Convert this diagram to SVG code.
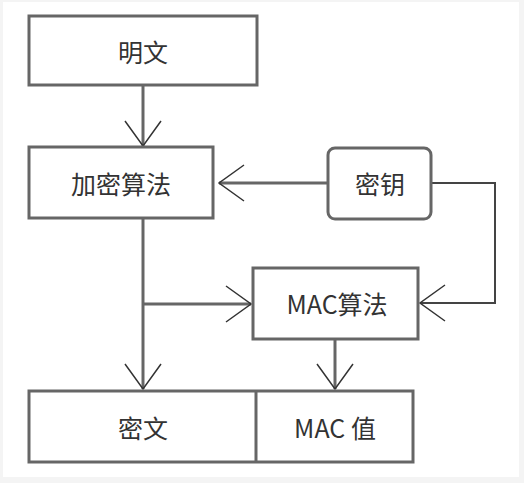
<svg xmlns="http://www.w3.org/2000/svg" width="524" height="483" viewBox="0 0 524 483">
  <defs>
    <marker id="arrow" markerUnits="userSpaceOnUse" viewBox="-27 -20 30 40" refX="0" refY="0" markerWidth="30" markerHeight="40" orient="auto" overflow="visible">
      <path d="M-25,-18 L0,0 L-25,18" fill="none" stroke="#333" stroke-width="1.5"/>
    </marker>
  </defs>
  <style>
    .box { fill: #ffffff; stroke: #666666; stroke-width: 3; }
    .lbl { font-family: "Noto Sans CJK SC", "Noto Sans", sans-serif; font-size: 25px; fill: #333333; text-anchor: middle; dominant-baseline: central; }
    .conn { fill: none; stroke: #666666; stroke-width: 3; }
    .thin { fill: none; stroke: #444444; stroke-width: 2; }
  </style>
  <rect x="0" y="0" width="524" height="483" fill="#f4f4f4"/>
  <rect x="3" y="2" width="516" height="475" fill="#ffffff"/>

  <g id="connectors">
    <line class="conn" x1="143" y1="86" x2="143" y2="146" marker-end="url(#arrow)"/>
    <line class="conn" x1="327" y1="183" x2="219" y2="183" marker-end="url(#arrow)"/>
    <path class="thin" d="M432,183 H495 V303 H420" marker-end="url(#arrow)"/>
    <path class="conn" d="M143,219 V389" marker-end="url(#arrow)"/>
    <line class="conn" x1="143" y1="304" x2="251" y2="304" marker-end="url(#arrow)"/>
    <line class="conn" x1="335" y1="340" x2="335" y2="389" marker-end="url(#arrow)"/>
  </g>

  <g id="plaintext">
    <rect class="box" x="29" y="16" width="228" height="69"/>
    <text class="lbl" x="143" y="51">明文</text>
  </g>
  <g id="encrypt">
    <rect class="box" x="29" y="147" width="184" height="71"/>
    <text class="lbl" x="121" y="183">加密算法</text>
  </g>
  <g id="key">
    <rect class="box" x="328" y="148" width="103" height="71" rx="7"/>
    <text class="lbl" x="380" y="183">密钥</text>
  </g>
  <g id="mac">
    <rect class="box" x="253" y="268" width="165" height="71"/>
    <text class="lbl" x="337" y="303">MAC算法</text>
  </g>
  <g id="output">
    <rect class="box" x="29" y="391" width="384" height="71"/>
    <line class="box" x1="256" y1="391" x2="256" y2="462"/>
    <text class="lbl" x="143" y="427">密文</text>
    <text class="lbl" x="335" y="427">MAC 值</text>
  </g>
</svg>
